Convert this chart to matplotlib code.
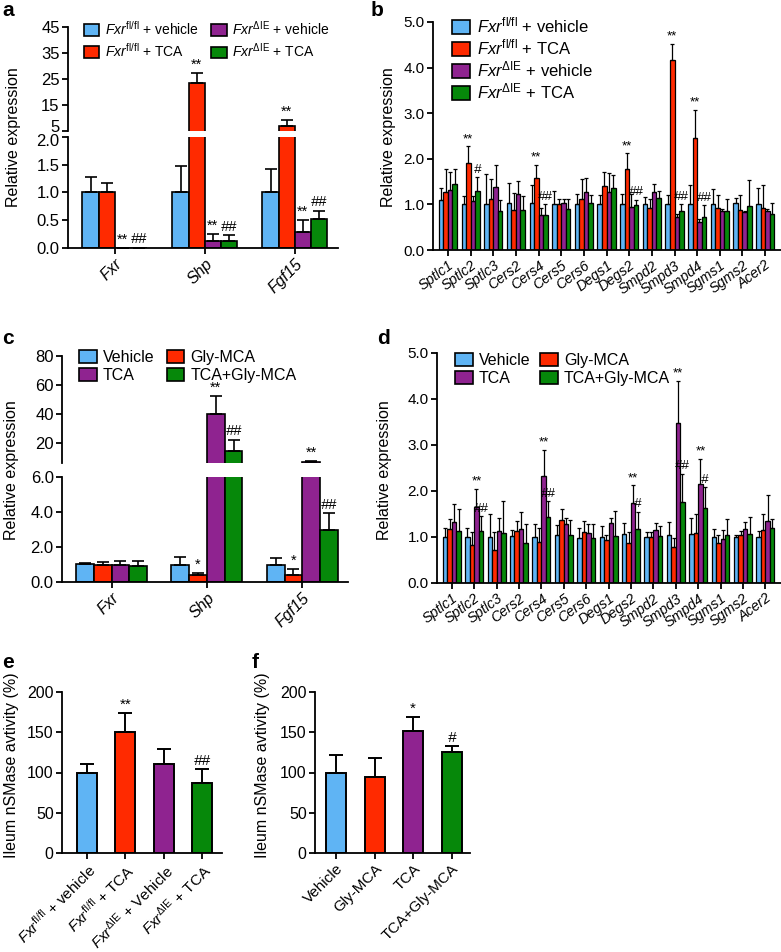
import numpy as np
import matplotlib as mpl
mpl.use('Agg')
import matplotlib.pyplot as plt
from matplotlib.patches import Patch
from matplotlib.ticker import FormatStrFormatter
from matplotlib.transforms import ScaledTranslation

mpl.rcParams['font.family'] = ['Liberation Sans', 'DejaVu Sans']
mpl.rcParams['mathtext.fontset'] = 'custom'
mpl.rcParams['mathtext.rm'] = 'Liberation Sans'
mpl.rcParams['mathtext.it'] = 'Liberation Sans:italic'
mpl.rcParams['mathtext.default'] = 'regular'
mpl.rcParams['axes.linewidth'] = 1.3

# ---- panel a: FXR targets, Fxr fl/fl vs dIE ----
a_genes = ['Fxr', 'Shp', 'Fgf15']
a_fl_veh = [1.0, 1.0, 1.0]
a_fl_veh_err = [0.28, 0.47, 0.42]
a_fl_tca = [1.0, 23.5, 7.0]
a_fl_tca_err = [0.18, 3.7, 2.2]
a_ko_veh = [0.004, 0.13, 0.28]
a_ko_veh_err = [0.0, 0.12, 0.22]
a_ko_tca = [0.004, 0.13, 0.52]
a_ko_tca_err = [0.0, 0.10, 0.15]
a_marks = [(0, 2, '**'), (0, 3, '##'), (1, 1, '**'), (1, 2, '**'), (1, 3, '##'),
           (2, 1, '**'), (2, 2, '**'), (2, 3, '##')]

# ---- panel b / d: ceramide synthesis genes ----
genes = ['Sptlc1', 'Sptlc2', 'Sptlc3', 'Cers2', 'Cers4', 'Cers5', 'Cers6', 'Degs1',
         'Degs2', 'Smpd2', 'Smpd3', 'Smpd4', 'Sgms1', 'Sgms2', 'Acer2']
b_fl_veh = [1.09, 1.0, 1.0, 1.02, 1.03, 1.0, 1.0, 1.0, 1.0, 1.0, 1.0, 1.0, 1.0, 1.02, 1.0]
b_fl_veh_err = [0.26, 0.18, 0.67, 0.46, 0.40, 0.30, 0.22, 0.20, 0.22, 0.17, 0.20, 0.42, 0.33, 0.13, 0.35]
b_fl_tca = [1.28, 1.90, 1.12, 0.88, 1.58, 1.00, 1.12, 1.40, 1.78, 0.93, 4.17, 2.45, 0.92, 0.88, 0.92]
b_fl_tca_err = [0.50, 0.37, 0.43, 0.37, 0.28, 0.12, 0.44, 0.30, 0.34, 0.19, 0.35, 0.62, 0.28, 0.32, 0.51]
b_ko_veh = [1.32, 1.08, 1.38, 1.22, 0.77, 1.02, 1.28, 1.28, 0.95, 1.27, 0.72, 0.62, 0.85, 0.83, 0.85]
b_ko_veh_err = [0.40, 0.10, 0.48, 0.30, 0.16, 0.10, 0.30, 0.40, 0.27, 0.18, 0.08, 0.06, 0.05, 0.02, 0.05]
b_ko_tca = [1.45, 1.30, 0.85, 0.87, 0.77, 0.90, 1.02, 1.37, 0.98, 1.13, 0.85, 0.72, 0.85, 0.97, 0.78]
b_ko_tca_err = [0.33, 0.30, 0.25, 0.31, 0.23, 0.22, 0.18, 0.28, 0.12, 0.17, 0.15, 0.26, 0.27, 0.56, 0.24]
b_marks = [(1, 1, '**'), (1, 3, '#'), (4, 1, '**'), (4, 3, '##'), (8, 1, '**'), (8, 3, '##'),
           (10, 1, '**'), (10, 3, '##'), (11, 1, '**'), (11, 3, '##')]

# ---- panel c: Gly-MCA treatment ----
c_veh = [1.02, 1.0, 1.0]
c_veh_err = [0.08, 0.42, 0.40]
c_gly = [0.98, 0.38, 0.40]
c_gly_err = [0.15, 0.12, 0.32]
c_tca = [1.0, 40.0, 6.9]
c_tca_err = [0.20, 12.0, 0.25]
c_tca_gly = [0.9, 14.5, 3.0]
c_tca_gly_err = [0.28, 7.5, 0.92]
c_marks = [(1, 1, '*'), (1, 2, '**'), (1, 3, '##'), (2, 1, '*'), (2, 2, '**'), (2, 3, '##')]

d_veh = [1.0, 1.0, 1.0, 1.02, 1.0, 1.05, 0.98, 1.0, 1.07, 1.0, 1.05, 1.07, 1.0, 1.0, 1.0]
d_veh_err = [0.20, 0.20, 0.50, 0.13, 0.28, 0.22, 0.22, 0.25, 0.23, 0.10, 0.27, 0.35, 0.18, 0.05, 0.12]
d_gly = [1.17, 0.83, 0.72, 1.13, 0.90, 1.37, 1.10, 0.93, 0.88, 1.0, 0.78, 1.08, 0.88, 1.05, 1.15]
d_gly_err = [0.23, 0.27, 0.38, 0.22, 0.30, 0.23, 0.25, 0.12, 0.22, 0.10, 0.20, 0.42, 0.17, 0.07, 0.35]
d_tca = [1.32, 1.65, 1.13, 1.18, 2.33, 1.28, 1.08, 1.30, 1.73, 1.15, 3.48, 2.15, 0.95, 1.17, 1.35]
d_tca_err = [0.40, 0.40, 0.29, 0.37, 0.57, 0.14, 0.20, 0.12, 0.39, 0.15, 0.92, 0.55, 0.20, 0.15, 0.57]
d_tca_gly = [1.12, 1.12, 1.08, 0.87, 1.43, 1.05, 0.97, 1.03, 1.17, 1.03, 1.77, 1.63, 1.05, 1.07, 1.20]
d_tca_gly_err = [0.48, 0.33, 0.70, 0.41, 0.35, 0.33, 0.31, 0.54, 0.38, 0.22, 0.61, 0.45, 0.35, 0.36, 0.20]
d_marks = [(1, 2, '**'), (1, 3, '##'), (4, 2, '**'), (4, 3, '##'), (8, 2, '**'), (8, 3, '#'),
           (10, 2, '**'), (10, 3, '##'), (11, 2, '**'), (11, 3, '#')]

# ---- panel e / f: nSMase activity ----
e_groups = [r'$\mathit{Fxr}^{\mathrm{fl/fl}}$ + vehicle', r'$\mathit{Fxr}^{\mathrm{fl/fl}}$ + TCA',
            r'$\mathit{Fxr}^{\Delta\mathrm{IE}}$ + Vehicle', r'$\mathit{Fxr}^{\Delta\mathrm{IE}}$ + TCA']
e_vals = [100, 150.5, 111, 86.6]
e_errs = [11, 23.5, 18, 17.5]
e_marks = [(1, '**'), (3, '##')]
f_groups = ['Vehicle', 'Gly-MCA', 'TCA', 'TCA+Gly-MCA']
f_vals = [100, 94, 151.8, 125.8]
f_errs = [21.6, 23.5, 17.2, 7.2]
f_marks = [(2, '*'), (3, '#')]

fxr_labels = [r'$\mathit{Fxr}^{\mathrm{fl/fl}}$ + vehicle', r'$\mathit{Fxr}^{\mathrm{fl/fl}}$ + TCA',
              r'$\mathit{Fxr}^{\Delta\mathrm{IE}}$ + vehicle', r'$\mathit{Fxr}^{\Delta\mathrm{IE}}$ + TCA']
gly_labels = ['Vehicle', 'Gly-MCA', 'TCA', 'TCA+Gly-MCA']

BLUE, RED, PURPLE, GREEN = '#5fb4f4', '#ff2a00', '#8f2390', '#06880a'
COLORS = [BLUE, RED, PURPLE, GREEN]

W, H = 781, 952
fig = plt.figure(figsize=(W / 100, H / 100), dpi=100)


def box(x0, y0, x1, y1):
    return [x0 / W, 1 - y1 / H, (x1 - x0) / W, (y1 - y0) / H]


def style(ax, labelsize=11):
    ax.spines['top'].set_visible(False)
    ax.spines['right'].set_visible(False)
    ax.tick_params(direction='out', length=4, width=1.3, labelsize=labelsize, pad=2)
    ax.patch.set_alpha(0)


def bars(ax, series, errs, width, lw=1.2, cap=3):
    x = np.arange(len(series[0]))
    n = len(series)
    pos_all = []
    for i in range(n):
        pos = x + (i - (n - 1) / 2) * width
        ax.bar(pos, series[i], width, color=COLORS[i], edgecolor='k', linewidth=lw, zorder=2)
        ax.errorbar(pos, series[i], yerr=[np.zeros(len(x)), errs[i]], fmt='none', ecolor='k',
                    elinewidth=lw, capsize=cap, capthick=lw, zorder=3)
        pos_all.append(pos)
    return pos_all


def mark(ax, x, y, s, size=10.5, dy=1):
    style_ = 'italic' if '#' in s else 'normal'
    ax.annotate(s, (x, y), xytext=(0, dy), textcoords='offset points', ha='center',
                va='bottom', fontsize=size, fontstyle=style_, zorder=5)


def legend(ax, labels, colors, x, y, ncol, fs=10.5, colsp=1.0, lsp=0.3):
    handles = [Patch(facecolor=c, edgecolor='k', linewidth=1.2) for c in colors]
    ax.legend(handles, labels, ncol=ncol, loc='upper left', bbox_to_anchor=(x / W, 1 - y / H),
              bbox_transform=fig.transFigure, frameon=False, handlelength=1.1, handleheight=0.9,
              handletextpad=0.4, columnspacing=colsp, labelspacing=lsp, borderaxespad=0,
              borderpad=0, fontsize=fs)


def nudge(label, dy_px):
    label.set_transform(label.get_transform() +
                        ScaledTranslation(0, dy_px / 100, fig.dpi_scale_trans))


def broken(x0, x1, y_top, y_mid1, y_mid2, y_bot, upper_lim, lower_lim, series, errs,
           width, marks, names, upper_ticks, lower_ticks, lower_fmt):
    ax_u = fig.add_axes(box(x0, y_top, x1, y_mid1))
    ax_l = fig.add_axes(box(x0, y_mid2, x1, y_bot))
    for ax in (ax_u, ax_l):
        style(ax, labelsize=12)
        pos = bars(ax, series, errs, width, cap=4)
        ax.set_xlim(-0.52, 2.48)
    ax_u.set_ylim(*upper_lim)
    ax_l.set_ylim(*lower_lim)
    ax_u.spines['bottom'].set_visible(False)
    ax_u.set_xticks([])
    ax_u.set_yticks(upper_ticks)
    ax_l.set_yticks(lower_ticks)
    ax_l.yaxis.set_major_formatter(FormatStrFormatter(lower_fmt))
    ax_l.set_xticks(range(len(names)))
    ax_l.set_xticklabels(names, rotation=45, ha='right', rotation_mode='anchor',
                         fontstyle='italic', fontsize=11.5)
    for g, s_i, txt in marks:
        y = series[s_i][g] + errs[s_i][g]
        target = ax_u if y > lower_lim[1] else ax_l
        mark(target, pos[s_i][g], y, txt)
    return ax_u, ax_l


# panel a
a_series = [a_fl_veh, a_fl_tca, a_ko_veh, a_ko_tca]
a_errs = [a_fl_veh_err, a_fl_tca_err, a_ko_veh_err, a_ko_tca_err]
ax_au, ax_al = broken(68, 338, 27, 131, 137, 248, (5, 45), (0, 2), a_series, a_errs, 0.18,
                      a_marks, a_genes, [5, 15, 25, 35, 45], [0, 0.5, 1.0, 1.5, 2.0], '%.1f')
legend(ax_au, fxr_labels, COLORS, 84, 19, 2, fs=10, colsp=0.9)
# the break labels sit very close together; pull them apart a little
nudge(ax_au.get_yticklabels()[0], 5)
nudge(ax_al.get_yticklabels()[-1], -3)

# panel c
c_series = [c_veh, c_gly, c_tca, c_tca_gly]
c_errs = [c_veh_err, c_gly_err, c_tca_err, c_tca_gly_err]
ax_cu, ax_cl = broken(62, 348, 356, 463, 477, 582, (6, 80), (0, 6), c_series, c_errs, 0.186,
                      c_marks, a_genes, [20, 40, 60, 80], [0, 2, 4, 6], '%.1f')
leg_order = [0, 2, 1, 3]
legend(ax_cu, [gly_labels[i] for i in leg_order], [COLORS[i] for i in leg_order],
       79, 350, 2, fs=11.5, colsp=0.75, lsp=0.15)


def gene_panel(x0, y0, x1, y1, series, errs, marks):
    ax = fig.add_axes(box(x0, y0, x1, y1))
    style(ax, labelsize=11)
    pos = bars(ax, series, errs, 0.2, lw=0.9, cap=1.5)
    ax.set_xlim(-0.66, 14.7)
    ax.set_ylim(0, 5)
    ax.set_yticks([0, 1, 2, 3, 4, 5])
    ax.yaxis.set_major_formatter(FormatStrFormatter('%.1f'))
    ax.set_xticks(range(len(genes)))
    ax.set_xticklabels(genes, rotation=37, ha='right', rotation_mode='anchor',
                       fontstyle='italic', fontsize=10.3)
    for g, s_i, txt in marks:
        mark(ax, pos[s_i][g], series[s_i][g] + errs[s_i][g], txt, size=9.5)
    return ax


# panel b
ax_b = gene_panel(433, 22, 781, 250, [b_fl_veh, b_fl_tca, b_ko_veh, b_ko_tca],
                  [b_fl_veh_err, b_fl_tca_err, b_ko_veh_err, b_ko_tca_err], b_marks)
legend(ax_b, fxr_labels, COLORS, 452, 16, 1, fs=12, lsp=0.12)

# panel d
ax_d = gene_panel(437, 353, 781, 583, [d_veh, d_gly, d_tca, d_tca_gly],
                  [d_veh_err, d_gly_err, d_tca_err, d_tca_gly_err], d_marks)
legend(ax_d, [gly_labels[i] for i in leg_order], [COLORS[i] for i in leg_order],
       455, 353, 2, fs=11.5, colsp=0.6, lsp=0.15)


def activity_panel(x0, x1, vals, errs, names, marks, xlim):
    ax = fig.add_axes(box(x0, 692, x1, 853))
    style(ax, labelsize=11.5)
    x = np.arange(len(vals))
    ax.bar(x, vals, 0.52, color=COLORS, edgecolor='k', linewidth=1.4, zorder=2)
    ax.errorbar(x, vals, yerr=[np.zeros(len(x)), errs], fmt='none', ecolor='k',
                elinewidth=1.4, capsize=5, capthick=1.4, zorder=3)
    ax.set_xlim(*xlim)
    ax.set_ylim(0, 200)
    ax.set_yticks([0, 50, 100, 150, 200])
    ax.set_xticks(x)
    ax.set_xticklabels(names, rotation=45, ha='right', rotation_mode='anchor', fontsize=11)
    for g, txt in marks:
        mark(ax, g, vals[g] + errs[g], txt, size=11)
    return ax


activity_panel(62, 222, e_vals, e_errs, e_groups, e_marks, (-0.65, 3.52))
activity_panel(315, 470, f_vals, f_errs, f_groups, f_marks, (-0.55, 3.48))

# y labels
for x, y, txt in [(14, 137, 'Relative expression'), (388, 137, 'Relative expression'),
                  (12, 470, 'Relative expression'), (384, 470, 'Relative expression'),
                  (12, 765, 'Ileum nSMase avtivity (%)'), (262, 765, 'Ileum nSMase avtivity (%)')]:
    fig.text(x / W, 1 - y / H, txt, rotation=90, ha='center', va='center', fontsize=11.5)

# panel letters
for x, y, txt in [(2, 10, 'a'), (371, 10, 'b'), (2, 338, 'c'), (377, 338, 'd'),
                  (2, 662, 'e'), (252, 662, 'f')]:
    fig.text(x / W, 1 - y / H, txt, ha='left', va='center', fontsize=15, fontweight='bold')

fig.savefig('out.png', dpi=100)
